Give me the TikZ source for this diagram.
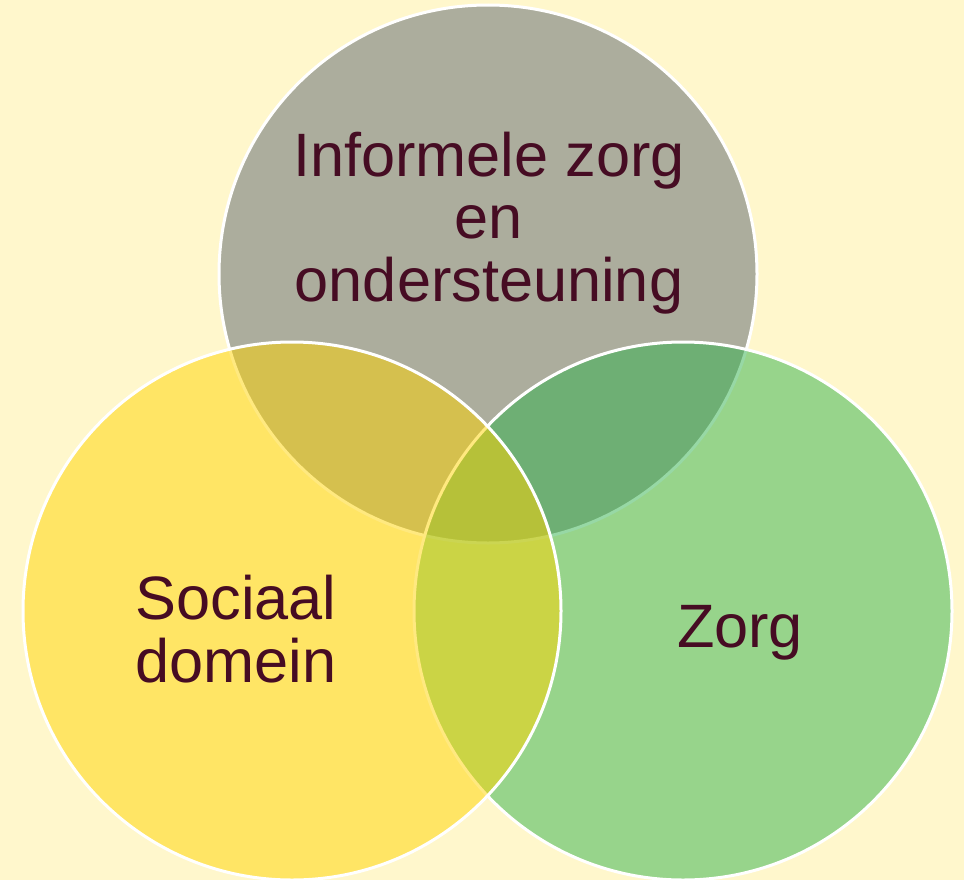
\documentclass[tikz,border=0pt]{standalone}
\usepackage{fontspec}
\setmainfont{Liberation Sans}
\definecolor{fond}{RGB}{255,247,204}
\definecolor{grisInf}{RGB}{91,100,112}
\definecolor{jauneSoc}{RGB}{255,212,0}
\definecolor{vertZorg}{RGB}{49,178,76}
\definecolor{texteVenn}{RGB}{70,12,35}
\tikzset{
  cercle/.style={draw=white,line width=3bp,fill opacity=0.5,draw opacity=1},
  etiquette/.style={text=texteVenn,align=center,font=\fontsize{61.5}{63}\selectfont}
}
\begin{document}
\begin{tikzpicture}[x=1bp,y=-1bp]
\fill [fond] (0,0) rectangle (964,880);
\useasboundingbox (0,0) rectangle (964,880);

%% cercles
\def\Rayon{269}
   \draw [cercle,fill=grisInf] (488,274) circle (\Rayon);
   \draw [cercle,fill=vertZorg] (683,611) circle (\Rayon);
   \draw [cercle,fill=jauneSoc] (292,611) circle (\Rayon);

%% textes
   \node [etiquette] (informeel) at (489,223) {Informele zorg\\en\\ondersteuning};
   \node [etiquette] (sociaal) at (236,629) {Sociaal\\domein};
   \node [etiquette] (zorg) at (740,633) {Zorg};

\end{tikzpicture}
\end{document}
